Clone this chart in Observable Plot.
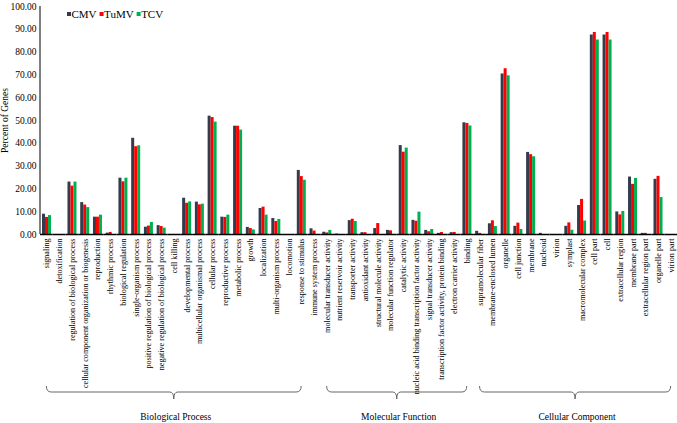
<!DOCTYPE html>
<html><head><meta charset="utf-8">
<script src="https://cdn.jsdelivr.net/npm/d3@7"></script>
<script src="https://cdn.jsdelivr.net/npm/@observablehq/plot@0.6"></script>
<style>body{margin:0;background:#fff} #chart{position:relative;width:677px;height:423px}</style>
</head><body><div id="chart"></div>
<script>
const categories = [
  "signaling","detoxification","regulation of biological process","cellular component organization or biogenesis",
  "reproduction","rhythmic process","biological regulation","single-organism process",
  "positive regulation of biological process","negative regulation of biological process","cell killing",
  "developmental process","multicellular organismal process","cellular process","reproductive process",
  "metabolic process","growth","localization","multi-organism process","locomotion","response to stimulus",
  "immune system process",
  "molecular transducer activity","nutrient reservoir activity","transporter activity","antioxidant activity",
  "structural molecule activity","molecular function regulator","catalytic activity",
  "nucleic acid binding transcription factor activity","signal transducer activity",
  "transcription factor activity, protein binding","electron carrier activity","binding",
  "supramolecular fiber","membrane-enclosed lumen","organelle","cell junction","membrane","nucleoid","virion",
  "symplast","macromolecular complex","cell part","cell","extracellular region","membrane part",
  "extracellular region part","organelle part","virion part"
];
const series = ["CMV", "TuMV", "TCV"];
const cmv  = [8.9,0,23.0,14.0,7.6,0.6,24.7,42.2,3.2,3.9,0,15.9,14.2,51.9,7.6,47.5,3.1,11.4,7.0,0,28.1,2.5,
              1.0,0.2,6.1,0.8,2.6,1.8,39.0,6.2,1.8,0.5,0.8,49.0,
              1.4,4.7,70.4,3.6,36.0,0.5,0,3.6,12.7,87.5,87.5,9.9,25.2,0.5,24.2,0];
const tumv = [7.5,0,21.2,12.9,7.6,0.9,23.1,38.5,3.7,3.5,0,13.7,13.0,51.3,7.5,47.5,2.6,12.0,5.7,0,25.4,1.5,
              0.7,0,6.7,0.8,4.8,1.6,36.1,5.8,1.2,0.9,0.9,48.7,
              0.5,6.0,72.7,5.0,35.0,0,0,5.1,15.4,88.6,88.6,8.6,22.0,0.5,25.5,0];
const tcv  = [8.3,0,23.0,11.8,8.5,0,24.7,38.9,5.3,2.8,0,14.3,13.3,49.3,8.5,45.8,2.0,8.5,6.6,0,23.8,0,
              1.8,0,5.7,0,0,0,37.9,9.8,2.2,0,0,47.6,
              0,3.5,69.6,2.2,34.1,0,0,1.9,5.9,85.3,85.3,10.1,24.6,0,16.2,0];
const yTicks = d3.range(0, 101, 10);
const groups = ["Biological Process", "Molecular Function", "Cellular Component"];
const groupStart = ["signaling", "molecular transducer activity", "supramolecular fiber"];
const groupEnd = ["response to stimulus", "binding", "virion part"];
const colors = ["#323c4c", "#ff0000", "#00b050"];

const values = [cmv, tumv, tcv];
const data = categories.flatMap((c, i) => series.map((s, j) => ({category: c, series: s, value: values[j][i]})));

const font = "Liberation Serif, DejaVu Serif, serif";
const chart = Plot.plot({
  width: 677, height: 423,
  marginLeft: 40, marginRight: 0, marginTop: 6, marginBottom: 189,
  style: {fontFamily: font, fontSize: "9px", color: "#000", background: "#fff"},
  fx: {domain: categories, padding: 0},
  x: {domain: series, paddingInner: 0, paddingOuter: 0.6, axis: null},
  y: {domain: [0, 100]},
  color: {domain: series, range: colors},
  marks: [
    Plot.barY(data, {fx: "category", x: "series", y: "value", fill: "series"}),
    Plot.ruleY([0], {stroke: "#000", strokeWidth: 1.5}),
    Plot.axisY({ticks: yTicks, tickFormat: d3.format(".2f"), tickSize: 0, tickPadding: 4, fontSize: 9.5,
      label: "Percent of Genes", labelArrow: "none", labelAnchor: "center", labelOffset: 39}),
    Plot.axisFx({anchor: "bottom", tickRotate: -90, tickSize: 0, tickPadding: 4, fontSize: 8.1, label: null})
  ]
});
document.getElementById("chart").appendChild(chart);

const svg = d3.select(chart);
const fx = chart.scale("fx");
const y = chart.scale("y");
const center = c => fx.apply(c) + fx.bandwidth / 2;

// y axis line
svg.append("line").attr("x1", fx.range[0]).attr("x2", fx.range[0])
  .attr("y1", y.apply(100)).attr("y2", y.apply(0)).attr("stroke", "#000").attr("stroke-width", 1);

// braces + group labels
groups.forEach((g, i) => {
  const x0 = center(groupStart[i]), x1 = center(groupEnd[i]);
  const m = (x0 + x1) / 2;
  const top = 386, base = 392, tip = 399;
  svg.append("path")
    .attr("d", `M${x0},${top} Q${x0},${base} ${x0 + 5},${base} L${m - 4},${base} Q${m},${base} ${m},${tip} Q${m},${base} ${m + 4},${base} L${x1 - 5},${base} Q${x1},${base} ${x1},${top}`)
    .attr("fill", "none").attr("stroke", "#666").attr("stroke-width", 1);
  svg.append("text").attr("x", m + 2).attr("y", 420).attr("text-anchor", "middle")
    .style("font-family", font).style("font-size", "9.5px").attr("fill", "#000").text(g);
});

// legend
let lx = 67;
series.forEach((s, i) => {
  svg.append("rect").attr("x", lx).attr("y", 12).attr("width", 4).attr("height", 4).attr("fill", colors[i]);
  const t = svg.append("text").attr("x", lx + 4.5).attr("y", 17.5).attr("text-anchor", "start")
    .style("font-family", font).style("font-size", "11px").attr("fill", "#000").text(s);
  lx += 4.5 + t.node().getComputedTextLength() + 3;
});
</script>
</body></html>
